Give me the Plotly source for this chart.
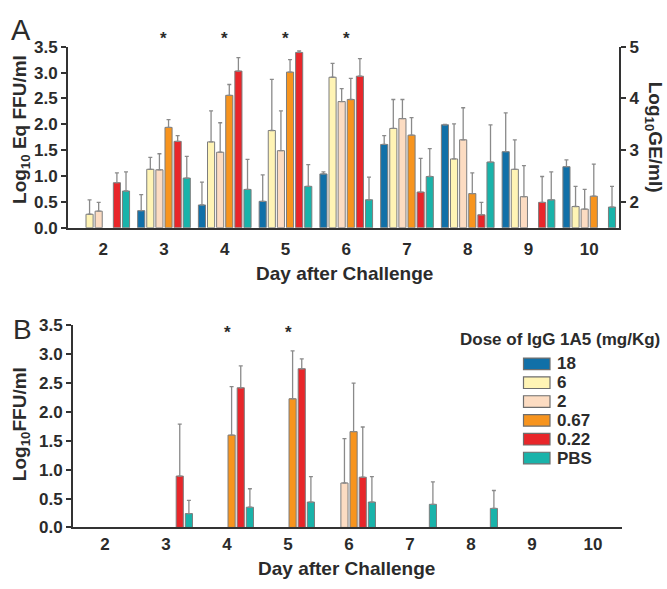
import plotly.graph_objects as go

W, H = 667, 589

days = [2, 3, 4, 5, 6, 7, 8, 9, 10]
dose_names = ["18", "6", "2", "0.67", "0.22", "PBS"]
dose_colors = ["#1170a8", "#fff4b5", "#fcdcc2", "#f7941e", "#e8262a", "#19b3aa"]

# Panel A: Log10 Eq FFU/ml (means and upper SD)
A_means = {
    "18":   [None, 0.33, 0.44, 0.51, 1.04, 1.61, 1.99, 1.47, 1.18],
    "6":    [0.26, 1.13, 1.66, 1.88, 2.91, 1.92, 1.33, 1.13, 0.41],
    "2":    [0.32, 1.12, 1.46, 1.49, 2.44, 2.11, 1.70, 0.60, 0.36],
    "0.67": [None, 1.94, 2.56, 3.01, 2.48, 1.79, 0.66, None, 0.61],
    "0.22": [0.87, 1.67, 3.03, 3.39, 2.93, 0.69, 0.25, 0.49, None],
    "PBS":  [0.71, 0.96, 0.74, 0.80, 0.54, 0.99, 1.27, 0.54, 0.40],
}
A_errs = {
    "18":   [None, 0.31, 0.44, 0.51, 0.04, 0.17, 0.01, 0.75, 0.13],
    "6":    [0.28, 0.23, 0.60, 0.99, 0.27, 0.56, 0.68, 0.57, 0.39],
    "2":    [0.17, 0.31, 0.57, 0.77, 0.25, 0.37, 0.62, 0.60, 0.38],
    "0.67": [None, 0.15, 0.21, 0.24, 0.41, 0.34, 0.40, None, 0.62],
    "0.22": [0.19, 0.11, 0.26, 0.03, 0.34, 0.65, 0.24, 0.50, None],
    "PBS":  [0.37, 0.42, 0.58, 0.42, 0.44, 0.54, 0.72, 0.54, 0.40],
}

# Panel B: Log10 FFU/ml
B_means = {
    "18":   [None] * 9,
    "6":    [None] * 9,
    "2":    [None, None, None, None, 0.77, None, None, None, None],
    "0.67": [None, None, 1.60, 2.23, 1.66, None, None, None, None],
    "0.22": [None, 0.89, 2.42, 2.75, 0.87, None, None, None, None],
    "PBS":  [None, 0.24, 0.35, 0.44, 0.44, 0.40, 0.33, None, None],
}
B_errs = {
    "18":   [None] * 9,
    "6":    [None] * 9,
    "2":    [None, None, None, None, 0.77, None, None, None, None],
    "0.67": [None, None, 0.84, 0.83, 0.84, None, None, None, None],
    "0.22": [None, 0.90, 0.38, 0.17, 0.87, None, None, None, None],
    "PBS":  [None, 0.23, 0.32, 0.44, 0.44, 0.39, 0.31, None, None],
}

y_ticks = [0.0, 0.5, 1.0, 1.5, 2.0, 2.5, 3.0, 3.5]
ge_ticks = [2, 3, 4, 5]
star_days_A = [3, 4, 5, 6]
star_days_B = [4, 5]

TXT = "#2b2b2b"
AX = "#333333"
FONT = "Liberation Sans, Arial, sans-serif"

fig = go.Figure()

def add_panel(means, errs, xa, ya):
    for name, col in zip(dose_names, dose_colors):
        e = [v if v is not None else 0 for v in errs[name]]
        fig.add_trace(go.Bar(
            x=days, y=means[name], name=name, xaxis=xa, yaxis=ya,
            marker=dict(color=col, line=dict(color="#7d7d7d", width=1)),
            error_y=dict(type="data", array=e, symmetric=False,
                         arrayminus=[0] * len(e), color="#8a8a8a",
                         thickness=1.3, width=2),
            showlegend=False,
        ))

add_panel(A_means, A_errs, "x", "y")
add_panel(B_means, B_errs, "x2", "y2")

# invisible trace to hold the right-hand GE axis
fig.add_trace(go.Scatter(x=[days[0]], y=[ge_ticks[0]], xaxis="x", yaxis="y3",
                         mode="markers", marker=dict(opacity=0),
                         showlegend=False, hoverinfo="skip"))

def py(y):
    return 1 - y / H

def px(x):
    return x / W

tickfont_y = dict(family=FONT, size=17, color=TXT, weight="bold")
tickfont_x = dict(family=FONT, size=17, color=TXT, weight="bold")

common_y = dict(range=[0, 3.5], tickvals=y_ticks, tickformat=".1f",
                ticks="outside", ticklen=5, tickwidth=1.5, tickcolor=AX,
                showline=True, linecolor=AX, linewidth=2, showgrid=False,
                zeroline=False, tickfont=tickfont_y)
common_x = dict(tickvals=days, tickcolor="rgba(0,0,0,0)", showline=True,
                linecolor=AX, linewidth=2, showgrid=False, zeroline=False,
                tickfont=tickfont_x)

fig.update_layout(
    width=W, height=H,
    margin=dict(l=0, r=0, t=0, b=0),
    paper_bgcolor="white", plot_bgcolor="white",
    barmode="group", bargap=0.1, bargroupgap=0.22,
    font=dict(family=FONT, color=TXT),
    xaxis=dict(domain=[px(68), px(619)], range=[1.42, 10.49], anchor="y",
               ticks="outside", ticklen=5, **common_x),
    yaxis=dict(domain=[py(226), py(39)], anchor="x", **common_y),
    yaxis3=dict(overlaying="y", side="right", anchor="x", range=[1.5, 5.0],
                tickvals=ge_ticks, ticks="outside", ticklen=5, tickwidth=1.5,
                tickcolor=AX, showline=True, linecolor=AX, linewidth=2,
                showgrid=False, zeroline=False,
                tickfont=dict(family=FONT, size=17, color=TXT, weight="bold")),
    xaxis2=dict(domain=[px(73), px(621.7)], range=[1.475, 10.47], anchor="y2",
                ticks="", **common_x),
    yaxis2=dict(domain=[py(535.7), py(327)], anchor="x2", **common_y),
)

ann = []
def text(x, y, s, size, bold=True, angle=0, xanchor="center"):
    ann.append(dict(x=px(x), y=py(y), xref="paper", yref="paper", text=s,
                    showarrow=False, textangle=angle, xanchor=xanchor,
                    yanchor="middle",
                    font=dict(family=FONT, size=size, color=TXT,
                              weight="bold" if bold else "normal")))

text(21, 22, "A", 29, bold=False)
text(22, 331, "B", 28, bold=False)
text(21, 125, "Log<sub>10</sub> Eq FFU/ml", 19, angle=-90)
text(21, 429, "Log<sub>10</sub>FFU/ml", 19, angle=-90)
text(654, 132, "Log<sub>10</sub>GE/ml)", 19, angle=90)
text(344, 273, "Day after Challenge", 19)
text(346, 578, "Day after Challenge", 19)

for d in star_days_A:
    ann.append(dict(x=d, y=py(31), xref="x", yref="paper", text="*",
                    showarrow=False, yanchor="middle",
                    font=dict(family=FONT, size=17, color=TXT, weight="bold")))
for d in star_days_B:
    ann.append(dict(x=d, y=py(334), xref="x2", yref="paper", text="*",
                    showarrow=False, yanchor="middle",
                    font=dict(family=FONT, size=17, color=TXT, weight="bold")))

# legend (drawn from the series names / colours)
text(560, 342, "Dose of IgG 1A5 (mg/Kg)", 17)
shapes = []
for i, (name, col) in enumerate(zip(dose_names, dose_colors)):
    cy = 366.7 + i * 19.46
    shapes.append(dict(type="rect", xref="paper", yref="paper",
                       x0=px(523.5), x1=px(550), y0=py(cy + 6), y1=py(cy - 6),
                       fillcolor=col, line=dict(color="#6e6e6e", width=1.2)))
    text(555, cy, name, 17, xanchor="left")

fig.update_layout(annotations=ann, shapes=shapes)

fig.write_html("out.html",
               config={"displayModeBar": False},
               post_script="document.body.style.margin='0';"
                           "document.documentElement.style.overflow='hidden';")
